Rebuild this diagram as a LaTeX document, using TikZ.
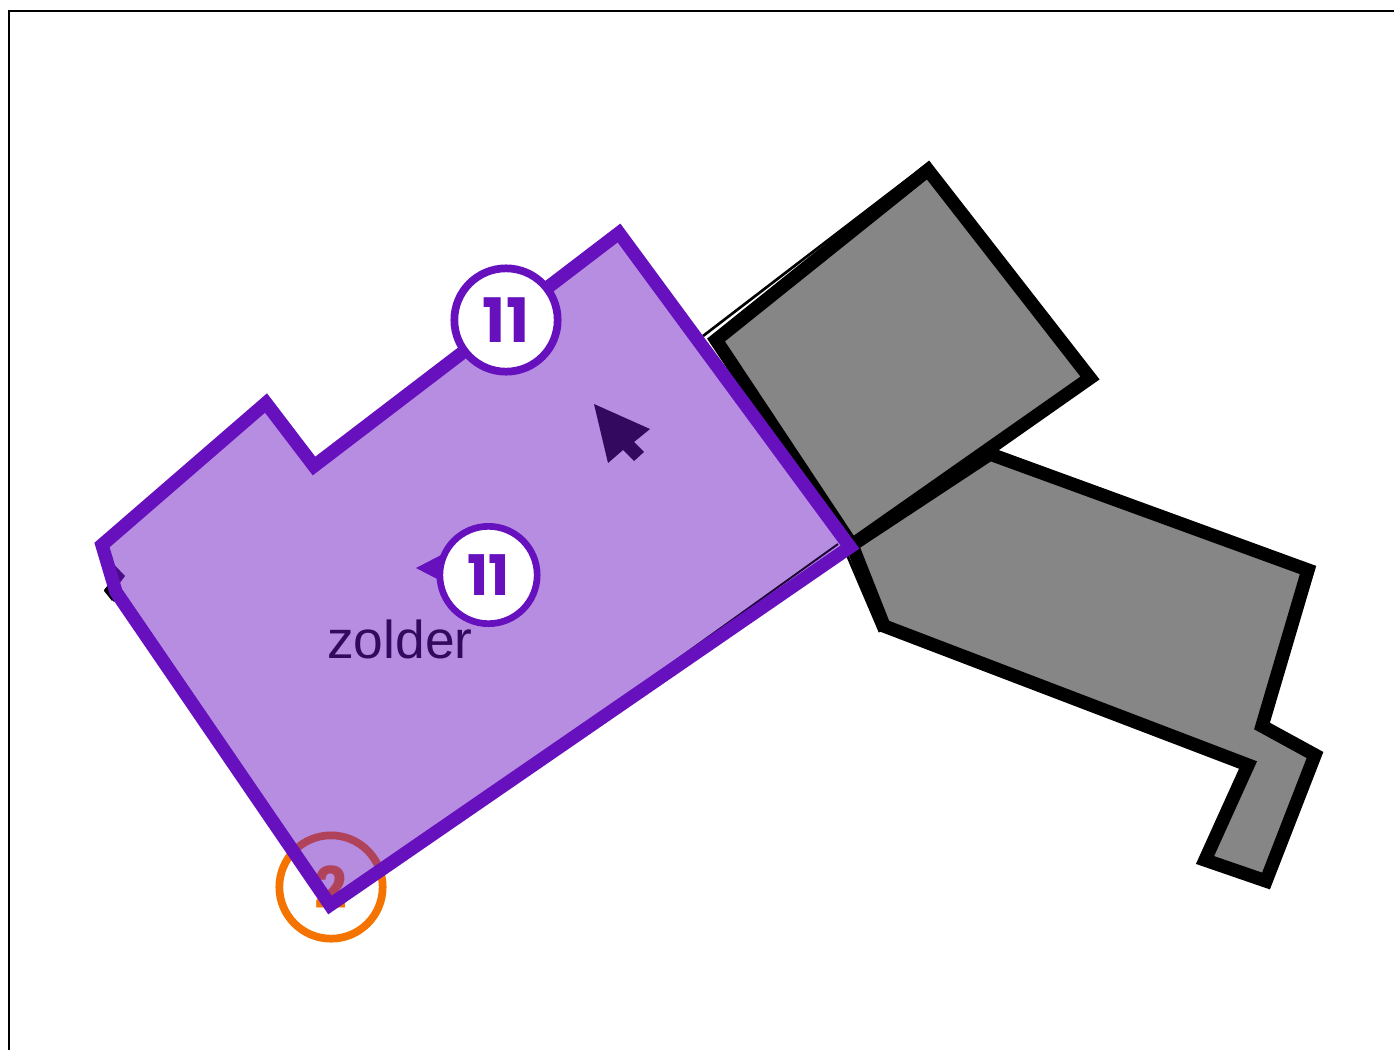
\documentclass[tikz,border=0pt]{standalone}
\usepackage{fontspec}
\setmainfont{Liberation Sans}
\newfontfamily\pop{Poppins}
\definecolor{violetline}{HTML}{6610BE}
\definecolor{darkviolet}{HTML}{33085F}
\definecolor{graybody}{HTML}{868686}
\definecolor{orangering}{HTML}{F57300}
\tikzset{
  frameline/.style={draw=black,line width=1.6pt},
  graypoly/.style={draw=black,fill=graybody,line width=10pt,miter limit=10},
  edgeline/.style={draw=black,line width=2pt},
  zone/.style={draw=none,fill=violetline,fill opacity=.48},
  zoneline/.style={draw=violetline,line width=10pt,miter limit=10},
  badge/.style={circle,draw=violetline,fill=white,line width=5.8pt,inner sep=0pt,font=\pop\bfseries\fontsize{42}{42}\selectfont,text=violetline},
  warnbadge/.style={circle,draw=orangering,fill=white,line width=5.8pt,inner sep=0pt,minimum size=77.5pt,font=\pop\bfseries\fontsize{43}{43}\selectfont,text=orangering},
  cursorshape/.style={fill=darkviolet,draw=none},
}
\begin{document}
\begin{tikzpicture}[x=0.75pt,y=-0.75pt]
\useasboundingbox (0,0) rectangle (1394,1050);
\draw[frameline] (9,1050) -- (9,11) -- (1394,11);
% black slivers under the grey rooms
\draw[edgeline] (703,336) -- (930,162);
\draw[edgeline] (845,550) -- (880,632);
\draw[edgeline] (1314,568) -- (1286,655) -- (1266,724);
\draw[edgeline] (105,590) -- (113,600);
% grey rooms
\draw[graypoly] (990,454) -- (1308,570) -- (1262,726) -- (1315,755) -- (1266,881) -- (1205,860) -- (1248,765) -- (884,626) -- (852,545) -- cycle;
\draw[graypoly] (928,170) -- (1090,378) -- (852,545) -- (716,340) -- cycle;
% orange badge
\node[warnbadge] (warn) at (331,887) {2};
% dark marks under the zone
\fill[black] (104,590) -- (112,580) -- (122,592) -- (114,602) -- cycle;
\fill[darkviolet] (106,556) -- (125,576) -- (116,588) -- cycle;
% zone
\path[zone] (619,233) -- (850,547) -- (330,905) -- (116,592) -- (102,545) -- (266,403) -- (314,466) -- cycle;
\draw[black!70!violetline,line width=1.5pt] (640,686) -- (838,544);
\draw[zoneline] (619,233) -- (850,547) -- (330,905) -- (116,592) -- (102,545) -- (266,403) -- (314,466) -- cycle;
% cursor
\fill[cursorshape] (594,404) -- (650,429) -- (634,442) -- (644,452) -- (634,461) -- (623,450) -- (608,463) -- cycle;
% badges
\node[badge,minimum size=77.5pt,font=\pop\bfseries\fontsize{46}{46}\selectfont] (topbadge) at (506,320) {11};
\fill[violetline] (416,568) -- (445,553) -- (445,583) -- cycle;
\node[badge,minimum size=73pt,line width=5pt] (midbadge) at (488.5,575) {11};
\node[anchor=base west,inner sep=0pt,text=darkviolet,font=\fontsize{40}{40}\selectfont] (label) at (327,658) {zolder};
\end{tikzpicture}
\end{document}
